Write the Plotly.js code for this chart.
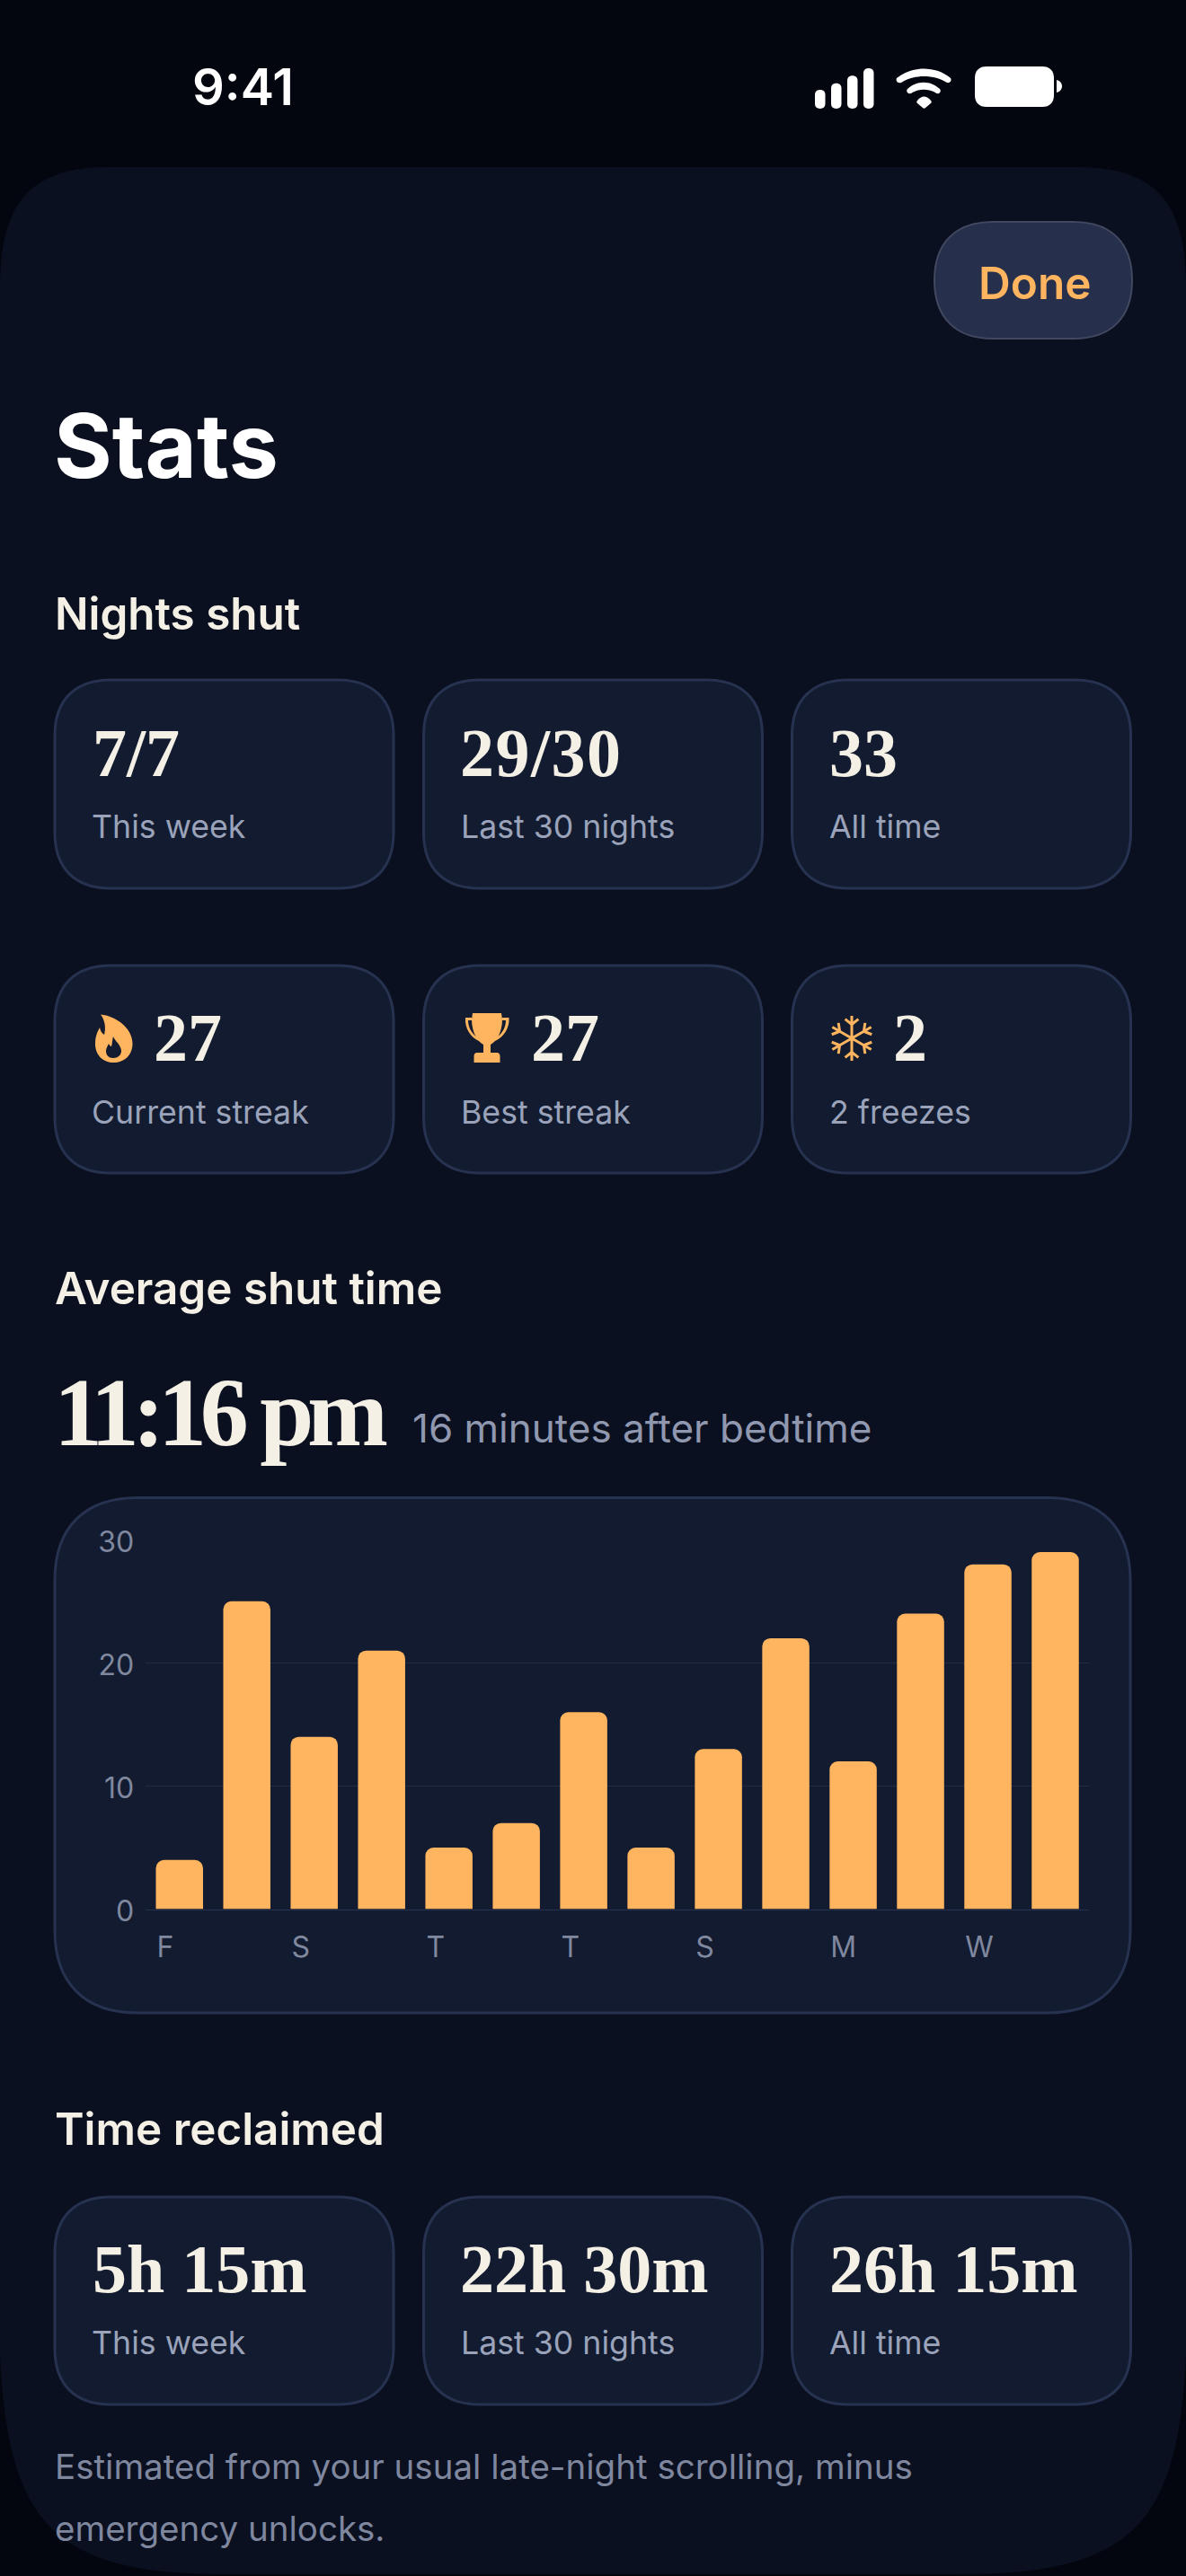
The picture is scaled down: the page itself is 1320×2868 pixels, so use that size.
<!DOCTYPE html>
<html><head><meta charset="utf-8">
<script src="https://cdn.plot.ly/plotly-3.0.1.min.js"></script>
<style>
html,body{margin:0;padding:0;background:#04060f;}
#chart{width:1320px;height:2868px;}
text[data-unformatted="11:16 pm"]{letter-spacing:-7.3px;}
text[data-unformatted="29/30"]{letter-spacing:1.5px;}
</style></head><body><div id="chart"></div>
<script>
// ---- data ----
const barDays = [0,1,2,3,4,5,6,7,8,9,10,11,12,13];
const barMinutes = [4,25,14,21,5,7,16,5,13,22,12,24,28,29];
const dayTickVals = [0,2,4,6,8,10,12];
const dayTickText = ['F','S','T','T','S','M','W'];
const yTickVals = [0,10,20,30];
const nightsValues = ['7/7','29/30','33'];
const nightsLabels = ['This week','Last 30 nights','All time'];
const streakValues = ['27','27','2'];
const streakLabels = ['Current streak','Best streak','2 freezes'];
const reclaimedValues = ['5h 15m','22h 30m','26h 15m'];
const reclaimedLabels = ['This week','Last 30 nights','All time'];

// ---- page geometry helpers ----
const W=1320,H=2868;
const ORANGE='#ffb45f',CREAM='#f4f0e6',CARD='#121b2f',EDGE='#26324f',PANEL='#0a101f';
const SANS='Inter, sans-serif',SERIF='"Liberation Serif", serif';
const fx=x=>x/W, fy=y=>1-y/H;
const P=s=>s.replace(/(-?[\d.]+) (-?[\d.]+)/g,(m,a,b)=>fx(+a).toFixed(6)+','+fy(+b).toFixed(6));
function rr(x0,y0,x1,y1,r){const k=r*0.36;return P(
 `M ${x0+r} ${y0} L ${x1-r} ${y0} C ${x1-k} ${y0} ${x1} ${y0+k} ${x1} ${y0+r} L ${x1} ${y1-r} C ${x1} ${y1-k} ${x1-k} ${y1} ${x1-r} ${y1} L ${x0+r} ${y1} C ${x0+k} ${y1} ${x0} ${y1-k} ${x0} ${y1-r} L ${x0} ${y0+r} C ${x0} ${y0+k} ${x0+k} ${y0} ${x0+r} ${y0} Z`);}
const shapes=[];
const fill=(path,color,line,lw)=>shapes.push({type:'path',xref:'paper',yref:'paper',layer:'below',path,fillcolor:color,line:line?{color:line,width:lw}:{width:0}});
const annotations=[];
function T(text,x,cy,size,color,family,weight,anchor){annotations.push({xref:'paper',yref:'paper',x:fx(x),y:fy(cy),text,showarrow:false,xanchor:anchor||'left',yanchor:'middle',borderpad:0,borderwidth:0,font:{size,color,family,weight:weight||400}});}

// panel
fill(P(`M 0 320 C 0 230 30 186 120 186 L 1200 186 C 1290 186 1320 230 1320 320 L 1320 2620 C 1312 2810 1260 2866 1070 2866 L 250 2866 C 60 2866 8 2810 0 2620 Z`),PANEL);
// done button
fill(rr(1040,247,1260,377,65),'#262f4b','#41485f',2);
// status icons
[[907,100],[925,92.7],[943,84.3],[961,76]].forEach(([x,t])=>fill(rr(x,t,x+11.5,121,5.7),'#ffffff'));
fill(P('M 998 87 C 1007 80 1018 76.5 1028 76.5 C 1039 76.5 1050 80 1058 87 C 1059.5 89 1058 93 1054 92 C 1047 87.5 1038 85 1028 85 C 1019 85 1010 87.5 1003 92 C 999 93 996.5 90 998 87 Z'),'#ffffff');
fill(P('M 1010 99 C 1015 94.5 1021 91.7 1028 91.7 C 1035 91.7 1041 94.5 1046 99 C 1048 101 1046 105 1042.5 104 C 1038 101 1033 99.7 1028 99.7 C 1023 99.7 1018 101 1014 104 C 1010 105 1008 101 1010 99 Z'),'#ffffff');
fill(P('M 1021 112 C 1023 109 1026 107.5 1028.3 107.5 C 1031 107.5 1034 109 1036 112 C 1037 113 1037 114 1036 115 L 1030 120 C 1029 121 1028 121 1027 120 L 1021 115 C 1020 114 1020 113 1021 112 Z'),'#ffffff');
fill(rr(1085,74,1173,119,13),'#ffffff');
fill(P('M 1176 89 C 1180 90 1182 93 1182 96 C 1182 99 1180 102 1176 103 Z'),'#ffffff');

// cards
const cardX=[61,471.5,881.5], cardW=377;
const rows=[
 {top:757,bot:989,vals:nightsValues,labs:nightsLabels,vy:838,ly:920,vx:[103,511.5,923]},
 {top:1075,bot:1306,vals:streakValues,labs:streakLabels,vy:1155,ly:1238,vx:[171,591,994]},
 {top:2446,bot:2677,vals:reclaimedValues,labs:reclaimedLabels,vy:2526,ly:2608,vx:[103,511.5,923]}];
const lx=[101.5,513,923];
rows.forEach(r=>{cardX.forEach((x,i)=>{
 fill(rr(x,r.top,x+cardW,r.bot,62),CARD,EDGE,3);
 T(r.vals[i],r.vx[i],r.vy,76,CREAM,SERIF,700);
 T(r.labs[i],lx[i],r.ly,35.7,'#9aa3ba',SANS,400);
});});
// chart card
fill(rr(61,1667.5,1258,2241,92),CARD,EDGE,3);

// flame
fill(P('M 112 1129.5 C 128 1131 147.5 1144 147.5 1162 C 147.5 1175 138 1183 126.5 1183 C 115 1183 106 1175 106 1162 C 106 1153 109 1148 111 1144 C 112 1148 113 1150 116 1152 C 118 1145 117 1136 112 1129.5 Z M 126 1154 C 128 1159 135 1164 135 1170 C 135 1175 131 1178 126 1178 C 121 1178 118 1175 118 1170 C 118 1167 120 1164 121 1162 C 122 1164 123 1165 124 1165 C 125 1162 125 1157 126 1154 Z'),ORANGE);
// trophy
fill(P('M 526 1128 L 558 1128 L 559 1135 C 559 1150 552 1160 546 1163 L 546 1172 L 553 1172 C 555.5 1172 556.5 1174 556.5 1176 L 556.5 1183 L 527.5 1183 L 527.5 1176 C 527.5 1174 528.5 1172 531 1172 L 538 1172 L 538 1163 C 532 1160 525 1150 525 1135 Z'),ORANGE);
fill(P('M 525 1133 L 518 1133 C 517 1145 524 1155 533 1159 L 533 1156 C 526 1152 521 1145 521 1136 L 525 1136 Z'),ORANGE);
fill(P('M 559 1133 L 566.5 1133 C 567.5 1145 560 1155 551 1159 L 551 1156 C 558 1152 563 1145 563 1136 L 559 1136 Z'),ORANGE);
// snowflake
(function(){const cx=948,cy=1156,R=25;let d='';
 for(let a=0;a<6;a++){const t=(90+60*a)*Math.PI/180,ux=Math.cos(t),uy=-Math.sin(t);
  d+=`M ${cx} ${cy} L ${(cx+R*ux).toFixed(2)} ${(cy+R*uy).toFixed(2)} `;
  const bx=cx+R*0.62*ux,by=cy+R*0.62*uy;
  [-1,1].forEach(s=>{const q=t+s*0.9;d+=`M ${bx.toFixed(2)} ${by.toFixed(2)} L ${(bx+9.5*Math.cos(q)).toFixed(2)} ${(by-9.5*Math.sin(q)).toFixed(2)} `;});}
 fill(P(d),'rgba(0,0,0,0)',ORANGE,3);
})();

// text
T('9:41',214,97.5,56,'#ffffff',SANS,600);
T('Done',1089,315,49.5,ORANGE,SANS,600);
T('Stats',59.5,496,99,'#ffffff',SANS,700);
T('Nights shut',61,682.5,49.4,CREAM,SANS,600);
T('Average shut time',61,1434,49.4,CREAM,SANS,600);
T('11:16 pm',60,1572,108,CREAM,SERIF,700);
T('16 minutes after bedtime',459,1590,44,'#9098b0',SANS,400);
T('Time reclaimed',61,2370,49.4,CREAM,SANS,600);
T('Estimated from your usual late-night scrolling, minus',61,2745.5,38.5,'#7f879f',SANS,400);
T('emergency unlocks.',61,2814.5,38.5,'#7f879f',SANS,400);

const axisGrey='#7f889e';
Plotly.newPlot('chart',[{type:'bar',x:barDays,y:barMinutes,marker:{color:ORANGE,line:{width:0}},width:0.7,hoverinfo:'skip'}],{
 width:W,height:H,margin:{l:0,r:0,t:0,b:0,pad:0},autosize:false,showlegend:false,
 paper_bgcolor:'#04060f',plot_bgcolor:'rgba(0,0,0,0)',barcornerradius:9,
 font:{family:SANS},
 xaxis:{domain:[162.25/W,1212/W],range:[-0.5,13.5],tickmode:'array',tickvals:dayTickVals,ticktext:dayTickText,
   ticklabelposition:'outside right',ticklabelshift:-26,ticklabelstandoff:13,showgrid:false,zeroline:false,ticks:'',showline:true,linecolor:EDGE,linewidth:1.5,
   tickfont:{size:32,color:axisGrey,family:SANS},fixedrange:true},
 yaxis:{domain:[fy(2125.6),fy(1714.3)],range:[0,30],tickmode:'array',tickvals:yTickVals,ticktext:yTickVals.map(String),
   showgrid:true,gridcolor:'#222c44',gridwidth:1.5,zeroline:false,ticks:'',ticklabelstandoff:12,ticklabelshift:2,showline:false,
   tickfont:{size:32,color:axisGrey,family:SANS},fixedrange:true},
 shapes,annotations
},{displayModeBar:false,staticPlot:true,responsive:false});
</script></body></html>
